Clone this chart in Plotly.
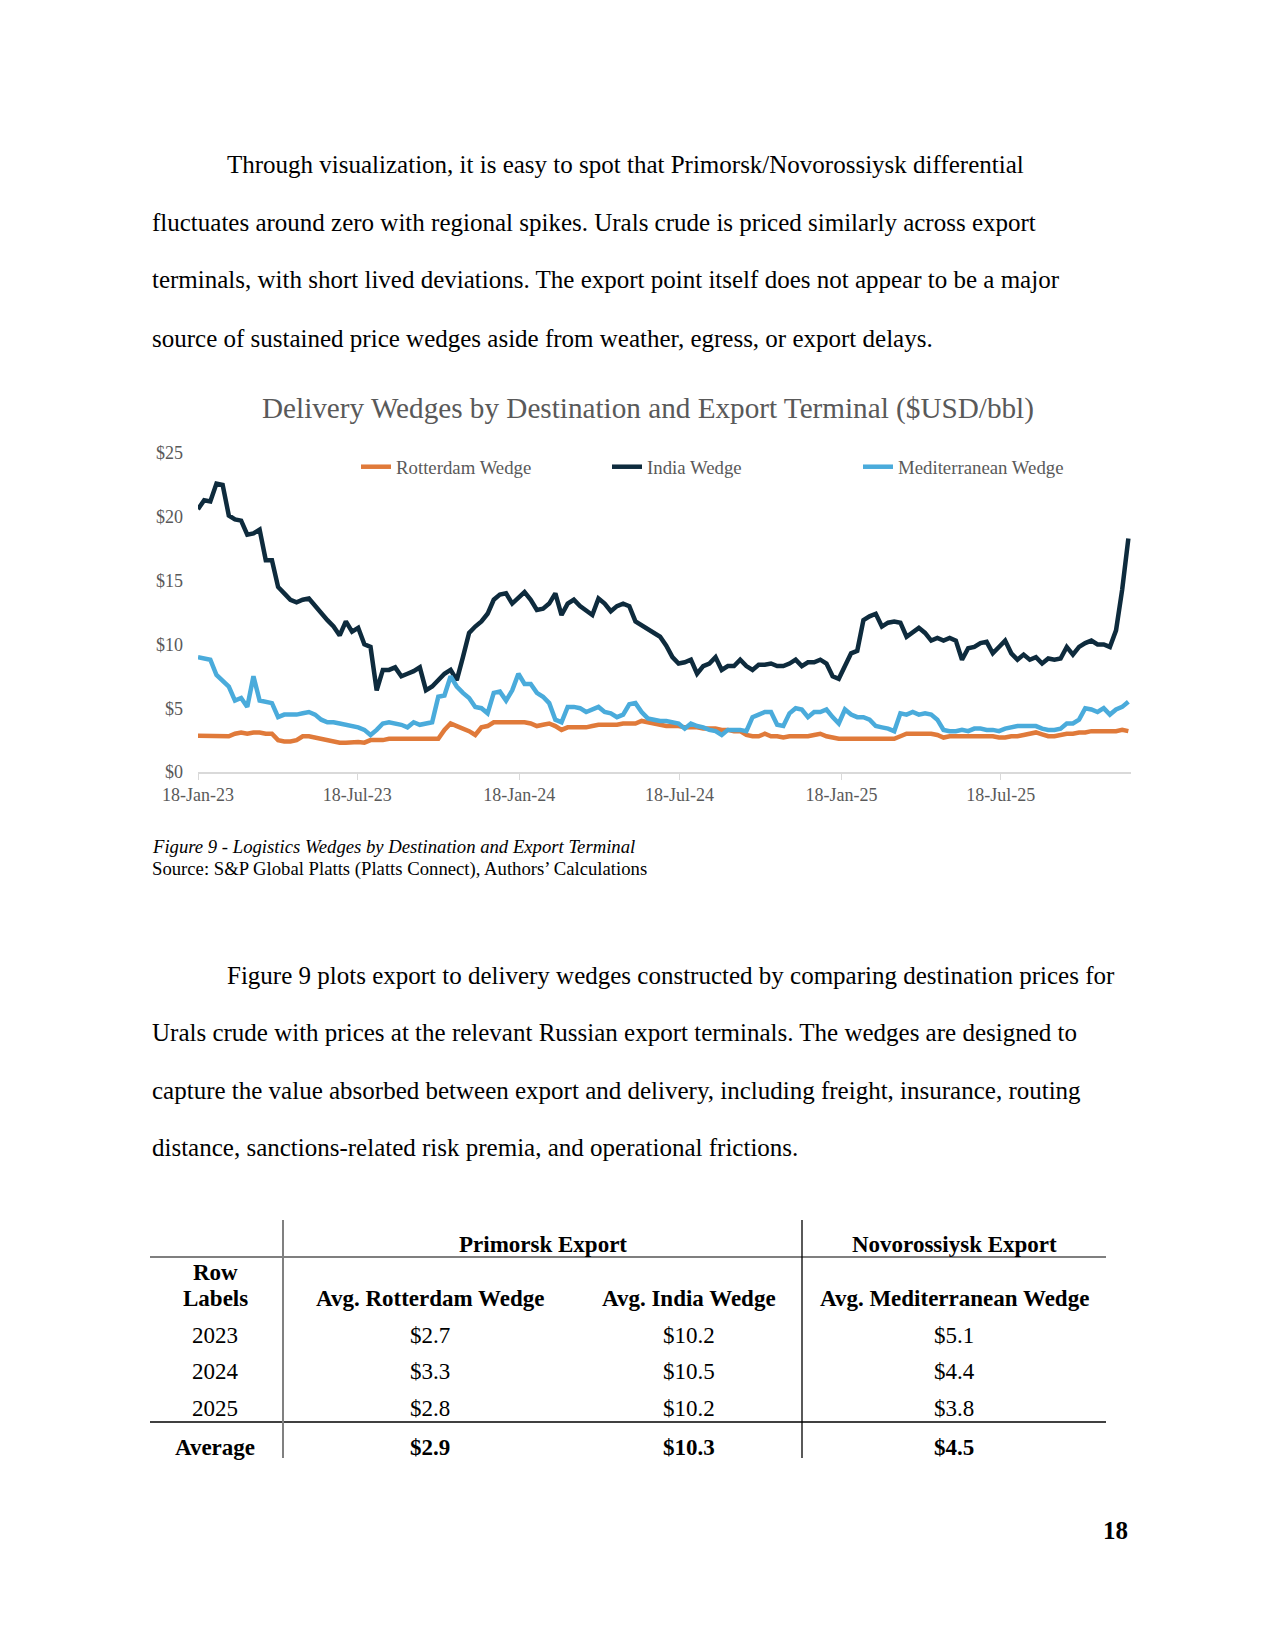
import pandas as pd
import plotly.graph_objects as go

W, H = 1275, 1650

# ---------------- data (weekly samples) ----------------
dates = pd.date_range("2023-01-18", periods=152, freq="7D")

rotterdam = [2.85, 2.85, 2.85, 2.85, 2.85, 2.8, 3.0, 3.1, 3.0, 3.1,
             3.1, 3.0, 3.0, 2.5, 2.4, 2.4, 2.5, 2.8, 2.8, 2.7,
             2.6, 2.5, 2.4, 2.3, 2.3, 2.35, 2.35, 2.3, 2.5, 2.5,
             2.5, 2.6, 2.6, 2.6, 2.6, 2.6, 2.6, 2.6, 2.6, 2.6,
             3.3, 3.8, 3.6, 3.4, 3.2, 2.9, 3.5, 3.6, 3.9, 3.9,
             3.9, 3.9, 3.9, 3.9, 3.8, 3.6, 3.7, 3.8, 3.6, 3.3,
             3.5, 3.5, 3.5, 3.5, 3.6, 3.7, 3.7, 3.7, 3.7, 3.8,
             3.8, 3.8, 4.0, 3.9, 3.8, 3.7, 3.6, 3.6, 3.6, 3.5,
             3.5, 3.5, 3.4, 3.4, 3.4, 3.3, 3.3, 3.2, 3.2, 2.9,
             2.8, 2.8, 3.0, 2.8, 2.8, 2.7, 2.8, 2.8, 2.8, 2.8,
             2.9, 3.0, 2.8, 2.7, 2.6, 2.6, 2.6, 2.6, 2.6, 2.6,
             2.6, 2.6, 2.6, 2.6, 2.8, 3.0, 3.0, 3.0, 3.0, 3.0,
             2.9, 2.7, 2.8, 2.8, 2.8, 2.8, 2.8, 2.8, 2.8, 2.8,
             2.7, 2.7, 2.8, 2.8, 2.9, 3.0, 3.1, 2.95, 2.8, 2.8,
             2.9, 3.0, 3.0, 3.1, 3.1, 3.2, 3.2, 3.2, 3.2, 3.2,
             3.3, 3.2]

india = [20.6, 21.3, 21.2, 22.6, 22.5, 20.1, 19.8, 19.7, 18.6, 18.7,
         19.0, 16.6, 16.6, 14.5, 14.0, 13.5, 13.3, 13.5, 13.6, 13.0,
         12.4, 11.9, 11.4, 10.7, 11.8, 11.0, 11.3, 10.0, 9.8, 6.4,
         8.0, 8.0, 8.2, 7.5, 7.7, 7.9, 8.2, 6.4, 6.7, 7.2,
         7.7, 8.0, 7.2, 9.0, 10.9, 11.4, 11.8, 12.4, 13.5, 13.9,
         14.0, 13.2, 13.7, 14.1, 13.5, 12.7, 12.8, 13.2, 14.0, 12.3,
         13.2, 13.5, 13.0, 12.7, 12.3, 13.6, 13.2, 12.6, 13.0, 13.2,
         13.0, 11.8, 11.5, 11.1, 10.9, 10.6, 9.9, 9.0, 8.5, 8.6,
         8.8, 7.7, 8.3, 8.5, 9.0, 8.0, 8.3, 8.3, 8.8, 8.3,
         8.0, 8.4, 8.4, 8.5, 8.3, 8.3, 8.5, 8.8, 8.3, 8.6,
         8.6, 8.8, 8.5, 7.5, 7.3, 8.3, 9.3, 9.5, 11.9, 12.2,
         12.4, 11.4, 11.7, 11.8, 11.7, 10.6, 11.0, 11.3, 10.9, 10.3,
         10.5, 10.3, 10.5, 10.3, 8.8, 9.7, 9.8, 10.1, 10.2, 9.3,
         9.8, 10.3, 9.3, 8.8, 9.2, 8.8, 9.0, 8.5, 8.9, 8.8,
         8.9, 9.8, 9.2, 9.8, 10.1, 10.3, 10.0, 10.0, 9.8, 11.1,
         14.3, 18.3]

mediterranean = [9.0, 8.9, 8.8, 7.6, 7.2, 6.7, 5.6, 5.8, 5.1, 7.5,
                 5.6, 5.5, 5.4, 4.3, 4.5, 4.5, 4.5, 4.6, 4.7, 4.5,
                 4.1, 3.9, 3.9, 3.8, 3.7, 3.6, 3.5, 3.3, 2.9, 3.3,
                 3.8, 3.9, 3.8, 3.7, 3.5, 3.9, 3.7, 3.8, 3.9, 5.9,
                 6.0, 7.5, 6.7, 6.2, 5.8, 5.1, 5.0, 4.6, 6.2, 6.3,
                 5.6, 6.4, 7.7, 6.9, 6.9, 6.2, 5.9, 5.4, 4.1, 3.9,
                 5.1, 5.1, 5.0, 4.7, 4.9, 5.1, 4.7, 4.6, 4.3, 4.5,
                 5.3, 5.4, 4.7, 4.2, 4.1, 4.0, 4.0, 3.9, 3.8, 3.4,
                 3.8, 3.6, 3.5, 3.3, 3.2, 2.9, 3.3, 3.3, 3.3, 3.2,
                 4.3, 4.5, 4.7, 4.7, 3.7, 3.6, 4.6, 5.0, 4.9, 4.3,
                 4.7, 4.7, 4.9, 4.3, 3.8, 4.9, 4.5, 4.3, 4.3, 4.1,
                 3.6, 3.5, 3.4, 3.2, 4.6, 4.5, 4.7, 4.5, 4.6, 4.5,
                 4.1, 3.3, 3.2, 3.2, 3.3, 3.2, 3.4, 3.4, 3.3, 3.3,
                 3.2, 3.4, 3.5, 3.6, 3.6, 3.6, 3.6, 3.4, 3.3, 3.3,
                 3.4, 3.8, 3.8, 4.1, 5.0, 4.9, 4.7, 5.0, 4.5, 4.9,
                 5.1, 5.5]

series_names = ["Rotterdam Wedge", "India Wedge", "Mediterranean Wedge"]
series_colors = ["#E07A3A", "#0E2B3D", "#4AABDB"]

x_tick_dates = ["2023-01-18", "2023-07-18", "2024-01-18", "2024-07-18", "2025-01-18", "2025-07-18"]
y_ticks = [0, 5, 10, 15, 20, 25]
y_tick_labels = ["$0", "$5", "$10", "$15", "$20", "$25"]

# table data
table_years = ["2023", "2024", "2025"]
avg_rotterdam = [2.7, 3.3, 2.8]
avg_india = [10.2, 10.5, 10.2]
avg_med = [5.1, 4.4, 3.8]
overall_avg = [2.9, 10.3, 4.5]

para1 = [
    "Through visualization, it is easy to spot that Primorsk/Novorossiysk differential",
    "fluctuates around zero with regional spikes. Urals crude is priced similarly across export",
    "terminals, with short lived deviations. The export point itself does not appear to be a major",
    "source of sustained price wedges aside from weather, egress, or export delays.",
]
para2 = [
    "Figure 9 plots export to delivery wedges constructed by comparing destination prices for",
    "Urals crude with prices at the relevant Russian export terminals. The wedges are designed to",
    "capture the value absorbed between export and delivery, including freight, insurance, routing",
    "distance, sanctions-related risk premia, and operational frictions.",
]

# ---------------- helpers ----------------
def px(x):
    return x / W

def py(y):
    return 1 - y / H

SERIF = "Liberation Serif, Times New Roman, serif"
GRAY = "#595959"

fig = go.Figure()
for name, vals, col in zip(series_names, [rotterdam, india, mediterranean], series_colors):
    fig.add_trace(go.Scatter(x=dates, y=vals, mode="lines", name=name,
                             line=dict(color=col, width=4.5)))

fig.update_layout(
    width=W, height=H,
    margin=dict(l=0, r=0, t=0, b=0, autoexpand=False),
    paper_bgcolor="white", plot_bgcolor="white",
    font=dict(family=SERIF, color="black"),
    xaxis=dict(domain=[px(198), px(1131)], automargin=False,
               range=["2023-01-18", "2025-12-13"],
               tickvals=x_tick_dates, tickformat="%d-%b-%y",
               showgrid=False, zeroline=False,
               showline=True, linecolor="#D9D9D9", linewidth=1.5,
               ticks="outside", ticklen=6, tickcolor="#D9D9D9",
               tickfont=dict(family=SERIF, size=18, color=GRAY)),
    yaxis=dict(domain=[py(772), py(453)], automargin=False,
               range=[0, 25], tickvals=y_ticks, ticktext=y_tick_labels,
               showgrid=False, zeroline=False, showline=False, ticks="",
               ticklabelstandoff=14,
               tickfont=dict(family=SERIF, size=18, color=GRAY)),
    legend=dict(orientation="h", x=px(356), xanchor="left", y=py(467), yanchor="middle",
                entrywidth=206, entrywidthmode="pixels",
                font=dict(family=SERIF, size=18.8, color=GRAY), bgcolor="rgba(0,0,0,0)"),
    showlegend=True,
)

ann = []
def text(x, y, s, size=25, anchor="left", color="black", bold=False, italic=False, family=SERIF):
    if bold:
        s = "<b>" + s + "</b>"
    if italic:
        s = "<i>" + s + "</i>"
    ann.append(dict(x=px(x), y=py(y), xref="paper", yref="paper", text=s, showarrow=False,
                    xanchor=anchor, yanchor="middle",
                    font=dict(family=family, size=size, color=color)))

# paragraph 1
p1_y = [165, 223, 280, 338]
for i, (line, y) in enumerate(zip(para1, p1_y)):
    text(225 if i == 0 else 150, y, line)

# chart title
text(648, 409, "Delivery Wedges by Destination and Export Terminal ($USD/bbl)", size=29.2,
     anchor="center", color=GRAY)

# caption
text(150, 846, "Figure 9 - Logistics Wedges by Destination and Export Terminal", size=18.7, italic=True)
text(150, 869, "Source: S&amp;P Global Platts (Platts Connect), Authors\u2019 Calculations", size=18.7)

# paragraph 2
p2_y = [975, 1032, 1090, 1147]
for i, (line, y) in enumerate(zip(para2, p2_y)):
    text(225 if i == 0 else 150, y, line)

# table
TS = 23
col_x = [215, 430, 689, 954]
text(543, 1244, "Primorsk Export", size=TS, anchor="center", bold=True)
text(954, 1244, "Novorossiysk Export", size=TS, anchor="center", bold=True)
text(col_x[0], 1272, "Row", size=TS, anchor="center", bold=True)
text(col_x[0], 1298, "Labels", size=TS, anchor="center", bold=True)
text(col_x[1], 1298, "Avg. Rotterdam Wedge", size=TS, anchor="center", bold=True)
text(col_x[2], 1298, "Avg. India Wedge", size=TS, anchor="center", bold=True)
text(col_x[3], 1298, "Avg. Mediterranean Wedge", size=TS, anchor="center", bold=True)
row_y = [1335, 1371, 1408]
for yr, r, i_, m, y in zip(table_years, avg_rotterdam, avg_india, avg_med, row_y):
    text(col_x[0], y, yr, size=TS, anchor="center")
    text(col_x[1], y, f"${r:.1f}", size=TS, anchor="center")
    text(col_x[2], y, f"${i_:.1f}", size=TS, anchor="center")
    text(col_x[3], y, f"${m:.1f}", size=TS, anchor="center")
text(col_x[0], 1447, "Average", size=TS, anchor="center", bold=True)
for cx, v in zip(col_x[1:], overall_avg):
    text(cx, 1447, f"${v:.1f}", size=TS, anchor="center", bold=True)

# page number
text(1115, 1530, "18", size=25, anchor="center", bold=True)

shapes = [
    dict(type="line", xref="paper", yref="paper", x0=px(150), x1=px(1106), y0=py(1257), y1=py(1257),
         line=dict(color="#7F7F7F", width=1.8)),
    dict(type="line", xref="paper", yref="paper", x0=px(150), x1=px(1106), y0=py(1422), y1=py(1422),
         line=dict(color="black", width=1.5)),
    dict(type="line", xref="paper", yref="paper", x0=px(283), x1=px(283), y0=py(1220), y1=py(1458),
         line=dict(color="#808080", width=2)),
    dict(type="line", xref="paper", yref="paper", x0=px(802), x1=px(802), y0=py(1220), y1=py(1458),
         line=dict(color="black", width=1.3)),
]

fig.update_layout(annotations=ann, shapes=shapes)

fig.write_html("out.html", config={"displayModeBar": False},
               post_script="document.body.style.margin='0px';document.body.style.overflow='hidden';")
